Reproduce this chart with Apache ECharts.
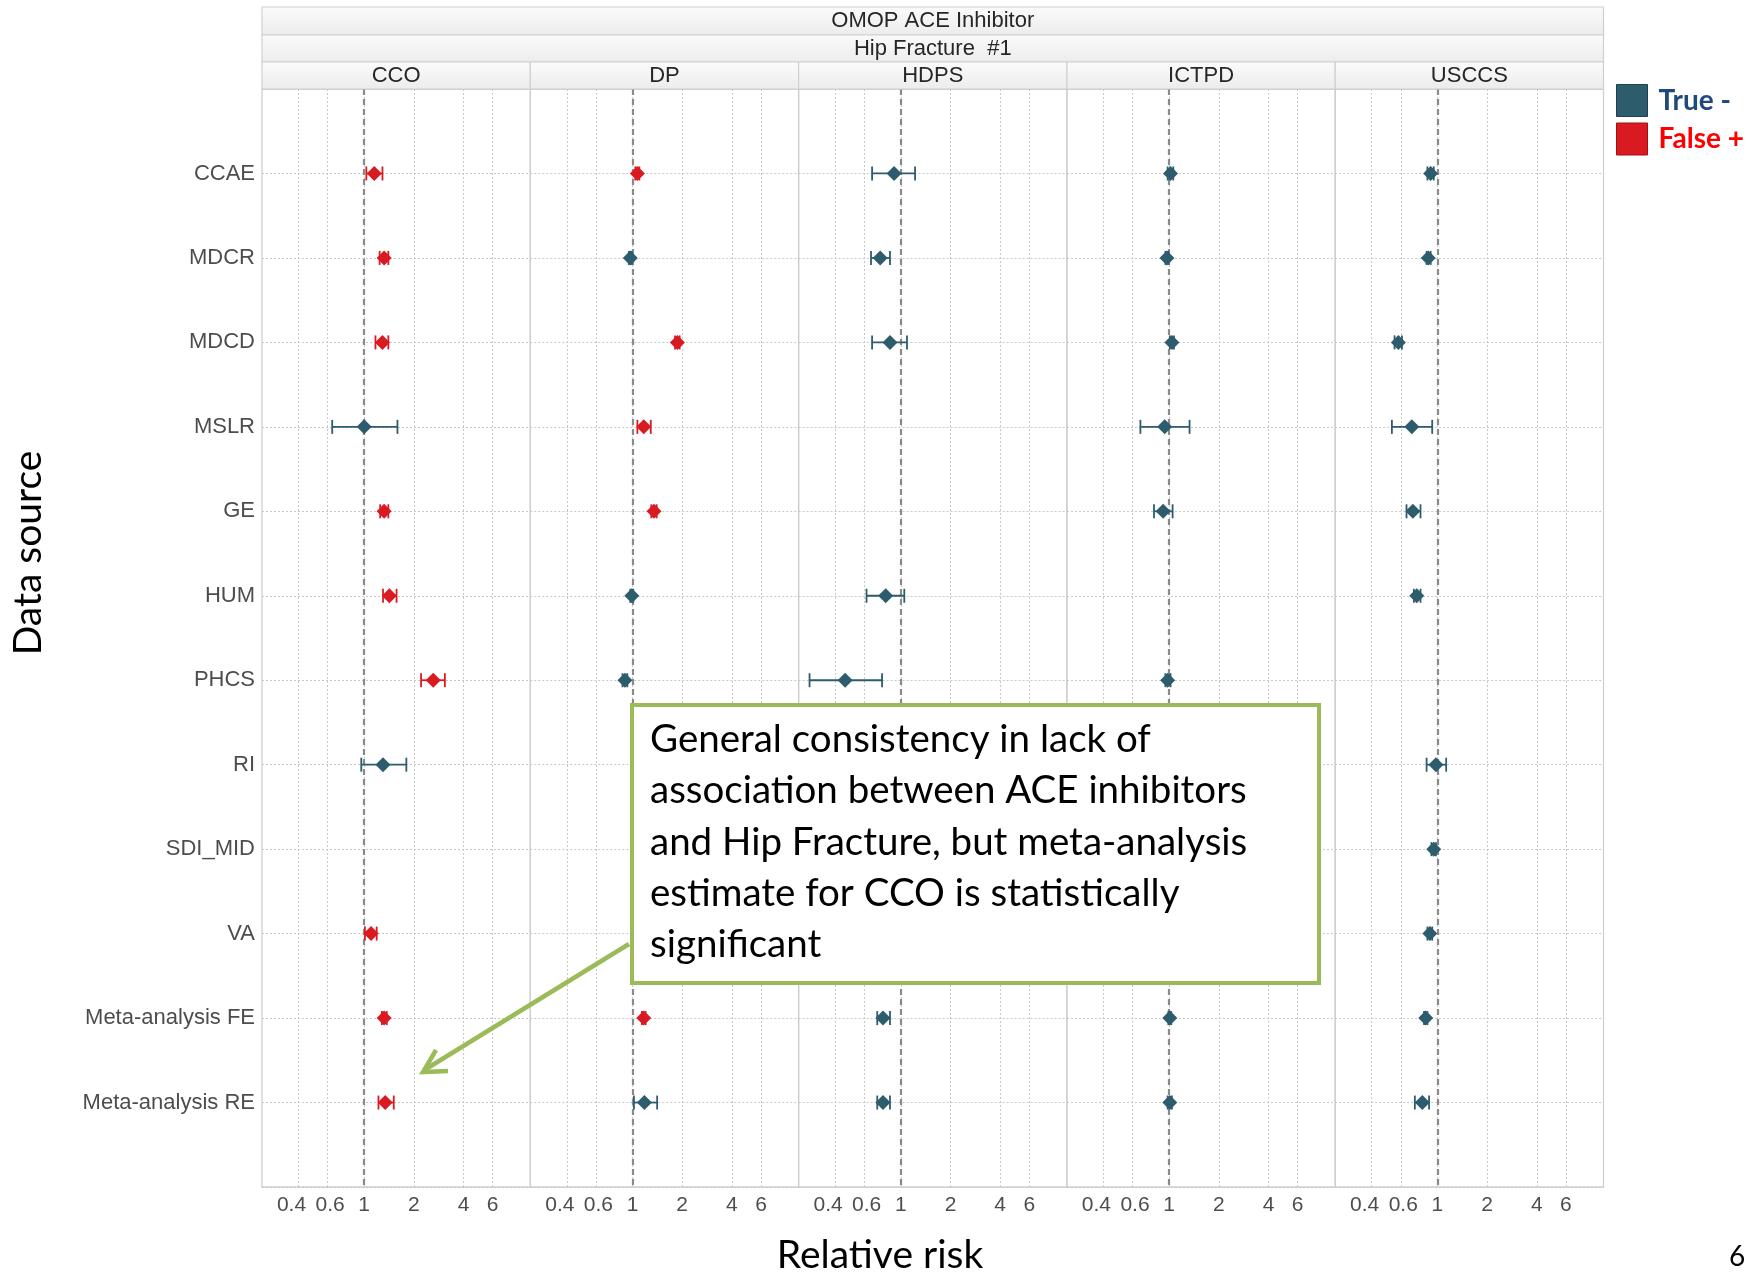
<!DOCTYPE html>
<html>
<head>
<meta charset="utf-8">
<script src="https://cdn.jsdelivr.net/npm/echarts@6/dist/echarts.min.js"></script>
<style>html,body{margin:0;padding:0;background:#fff}#c{width:1746px;height:1274px}</style>
</head>
<body>
<div id="c"></div>
<script>
// ---------- data ----------
const methods = ['CCO', 'DP', 'HDPS', 'ICTPD', 'USCCS'];
const sources = ['CCAE', 'MDCR', 'MDCD', 'MSLR', 'GE', 'HUM', 'PHCS', 'RI', 'SDI_MID', 'VA', 'Meta-analysis FE', 'Meta-analysis RE'];
const xTicks = [0.4, 0.6, 1, 2, 4, 6];
const classNames = ['True -', 'False +'];

// relative risk estimates, lower / upper CI, class (1 = False +, 0 = True -)
const ccoEst  = [1.15, 1.32, 1.29, 1.00, 1.32, 1.42, 2.62, 1.30, null, 1.10, 1.32, 1.34];
const ccoLow  = [1.03, 1.24, 1.17, 0.64, 1.25, 1.30, 2.21, 0.96, null, 1.01, 1.28, 1.22];
const ccoHigh = [1.29, 1.40, 1.40, 1.59, 1.40, 1.57, 3.08, 1.80, null, 1.19, 1.37, 1.51];
const ccoFalsePos = [1, 1, 1, 0, 1, 1, 1, 0, null, 1, 1, 1];

const dpEst  = [1.07, 0.97, 1.87, 1.17, 1.35, 0.99, 0.90, null, null, null, 1.17, 1.18];
const dpLow  = [1.04, 0.95, 1.81, 1.07, 1.30, 0.97, 0.87, null, null, null, 1.14, 1.02];
const dpHigh = [1.10, 0.99, 1.93, 1.29, 1.40, 1.01, 0.93, null, null, null, 1.20, 1.41];
const dpFalsePos = [1, 0, 1, 1, 1, 0, 0, null, null, null, 1, 0];

const hdpsEst  = [0.91, 0.75, 0.86, null, null, 0.81, 0.46, null, null, null, 0.78, 0.78];
const hdpsLow  = [0.67, 0.66, 0.67, null, null, 0.62, 0.28, null, null, null, 0.72, 0.72];
const hdpsHigh = [1.22, 0.86, 1.09, null, null, 1.05, 0.77, null, null, null, 0.86, 0.86];
const hdpsFalsePos = [0, 0, 0, null, null, 0, 0, null, null, null, 0, 0];

const ictpdEst  = [1.02, 0.97, 1.04, 0.94, 0.92, null, 0.98, null, null, null, 1.01, 1.01];
const ictpdLow  = [0.98, 0.95, 1.01, 0.67, 0.81, null, 0.95, null, null, null, 0.99, 0.98];
const ictpdHigh = [1.06, 0.99, 1.07, 1.33, 1.05, null, 1.02, null, null, null, 1.03, 1.04];
const ictpdFalsePos = [0, 0, 0, 0, 0, null, 0, null, null, null, 0, 0];

const usccsEst  = [0.91, 0.88, 0.58, 0.70, 0.71, 0.75, null, 0.98, 0.95, 0.90, 0.85, 0.81];
const usccsLow  = [0.87, 0.86, 0.55, 0.53, 0.65, 0.72, null, 0.86, 0.92, 0.87, 0.83, 0.73];
const usccsHigh = [0.95, 0.91, 0.61, 0.93, 0.79, 0.79, null, 1.13, 0.98, 0.93, 0.87, 0.89];
const usccsFalsePos = [0, 0, 0, 0, 0, 0, null, 0, 0, 0, 0, 0];

const methodData = [
  [ccoEst, ccoLow, ccoHigh, ccoFalsePos],
  [dpEst, dpLow, dpHigh, dpFalsePos],
  [hdpsEst, hdpsLow, hdpsHigh, hdpsFalsePos],
  [ictpdEst, ictpdLow, ictpdHigh, ictpdFalsePos],
  [usccsEst, usccsLow, usccsHigh, usccsFalsePos]
];

// ---------- layout / style ----------
const COLORS = ['#2D5C6D', '#DA1A21'];
const PLOT_LEFT = 262, PANEL_W = 268.3, PLOT_TOP = 89, PLOT_H = 1098;
const AXIS_FONT = 'Liberation Sans';
const SLIDE_FONT = 'Lato';
const GG_SIZE = 22;

const chart = echarts.init(document.getElementById('c'), null, {renderer: 'canvas'});

const grids = [], xAxes = [], yAxes = [], series = [];
methods.forEach((m, gi) => {
  grids.push({
    left: PLOT_LEFT + gi * PANEL_W, top: PLOT_TOP, width: PANEL_W, height: PLOT_H,
    show: true, borderColor: '#cfcfcf', borderWidth: 1.3, backgroundColor: 'transparent'
  });
  xAxes.push({
    type: 'log', gridIndex: gi, min: 0.2404, max: 10.14,
    axisLine: {show: false},
    axisTick: {show: false, customValues: xTicks},
    axisLabel: {
      customValues: xTicks, color: '#4d4d4d', fontFamily: AXIS_FONT, fontSize: 21, margin: 8,
      showMinLabel: true, showMaxLabel: true, hideOverlap: false,
      formatter: v => {
        const s = String(+(+v).toPrecision(2));
        if (s === '0.4') return '{l|' + s + '}';
        if (s === '0.6') return '{r|' + s + '}';
        return s;
      },
      rich: {
        l: {padding: [0, 14, 0, 0], color: '#4d4d4d', fontFamily: AXIS_FONT, fontSize: 21},
        r: {padding: [0, 0, 0, 5], color: '#4d4d4d', fontFamily: AXIS_FONT, fontSize: 21}
      }
    },
    splitLine: {show: true, lineStyle: {type: [2, 2], color: '#c8c8c8', width: 1}}
  });
  yAxes.push({
    type: 'value', gridIndex: gi, min: 0, max: 13, interval: 1, inverse: true,
    axisLine: {show: false}, axisTick: {show: false},
    axisLabel: {
      show: gi === 0, color: '#4d4d4d', fontFamily: AXIS_FONT, fontSize: GG_SIZE, margin: 7,
      formatter: v => sources[v - 1] || ''
    },
    splitLine: {show: true, lineStyle: {type: [2, 2], color: '#c8c8c8', width: 1}}
  });

  const [est, low, high, fp] = methodData[gi];
  [0, 1].forEach(cls => {
    const pts = [], bars = [];
    est.forEach((v, i) => {
      if (v == null || fp[i] !== cls) return;
      pts.push([v, i + 1]);
      bars.push([low[i], high[i], i + 1]);
    });
    const color = COLORS[cls];
    series.push({
      type: 'custom', name: classNames[cls], xAxisIndex: gi, yAxisIndex: gi, z: 3,
      itemStyle: {color},
      encode: {x: [0, 1], y: 2},
      renderItem: (params, api) => {
        const y = api.value(2);
        const a = api.coord([api.value(0), y]);
        const b = api.coord([api.value(1), y]);
        const h = 7;
        const st = {stroke: color, lineWidth: 1.8};
        return {type: 'group', children: [
          {type: 'line', shape: {x1: a[0], y1: a[1], x2: b[0], y2: b[1]}, style: st},
          {type: 'line', shape: {x1: a[0], y1: a[1] - h, x2: a[0], y2: a[1] + h}, style: st},
          {type: 'line', shape: {x1: b[0], y1: b[1] - h, x2: b[0], y2: b[1] + h}, style: st}
        ]};
      },
      data: bars
    });
    const s = {
      type: 'scatter', name: classNames[cls], xAxisIndex: gi, yAxisIndex: gi, z: 4,
      symbol: 'diamond', symbolSize: 15, itemStyle: {color, opacity: 1},
      data: pts
    };
    if (cls === 0) {
      s.markLine = {
        silent: true, symbol: ['none', 'none'], label: {show: false}, z: 2,
        lineStyle: {type: [6, 4], color: '#8a8a8a', width: 2.2},
        data: [{xAxis: 1}]
      };
    }
    series.push(s);
  });
});

// strips (facet labels)
const stripFill = new echarts.graphic.LinearGradient(0, 0, 0, 1, [
  {offset: 0, color: '#fbfbfb'}, {offset: 1, color: '#ececec'}
]);
const totalW = PANEL_W * methods.length;
const graphics = [];
const stripStyle = () => ({fill: stripFill, stroke: '#d0d0d0', lineWidth: 1.2});
const stripFont = GG_SIZE + 'px "Liberation Sans"';
graphics.push({type: 'rect', shape: {x: PLOT_LEFT, y: 7, width: totalW, height: 28}, style: stripStyle(), z: 50});
graphics.push({type: 'rect', shape: {x: PLOT_LEFT, y: 35, width: totalW, height: 27}, style: stripStyle(), z: 50});
graphics.push({type: 'text', x: PLOT_LEFT + totalW / 2, y: 21, style: {text: 'OMOP ACE Inhibitor', font: stripFont, fill: '#262626', align: 'center', verticalAlign: 'middle'}, z: 51});
graphics.push({type: 'text', x: PLOT_LEFT + totalW / 2, y: 48.5, style: {text: 'Hip Fracture  #1', font: stripFont, fill: '#262626', align: 'center', verticalAlign: 'middle'}, z: 51});
methods.forEach((m, gi) => {
  graphics.push({type: 'rect', shape: {x: PLOT_LEFT + gi * PANEL_W, y: 62, width: PANEL_W, height: 27}, style: stripStyle(), z: 50});
  graphics.push({type: 'text', x: PLOT_LEFT + gi * PANEL_W + PANEL_W / 2, y: 75.5, style: {text: m, font: stripFont, fill: '#262626', align: 'center', verticalAlign: 'middle'}, z: 51});
});

// axis titles and page number
graphics.push({type: 'text', x: 880, y: 1255, style: {text: 'Relative risk', font: '39px Lato', fill: '#000', align: 'center', verticalAlign: 'middle'}, z: 60});
graphics.push({type: 'text', x: 28, y: 553, rotation: Math.PI / 2, style: {text: 'Data source', font: '39px Lato', fill: '#000', align: 'center', verticalAlign: 'middle'}, z: 60});
graphics.push({type: 'text', x: 1737, y: 1257, style: {text: '6', font: '28px Lato', fill: '#000', align: 'center', verticalAlign: 'middle'}, z: 60});

// annotation box + arrow
const GREEN = '#9BBB59';
graphics.push({type: 'rect', shape: {x: 632, y: 705, width: 687, height: 278}, style: {fill: '#fff', stroke: GREEN, lineWidth: 4}, z: 100});
graphics.push({type: 'text', x: 650, y: 714, style: {
  text: 'General consistency in lack of\nassociation between ACE inhibitors\nand Hip Fracture, but meta-analysis\nestimate for CCO is statistically\nsignificant',
  font: '38.5px Lato', fill: '#000', lineHeight: 51.3, align: 'left', verticalAlign: 'top'}, z: 101});
graphics.push({type: 'line', shape: {x1: 629, y1: 944, x2: 426, y2: 1069}, style: {stroke: GREEN, lineWidth: 4.5}, z: 101});
graphics.push({type: 'polyline', shape: {points: [[436, 1050], [423, 1072], [448, 1071]]}, style: {stroke: GREEN, lineWidth: 4.5, fill: null, lineJoin: 'miter'}, z: 101});

chart.setOption({
  animation: false,
  backgroundColor: '#fff',
  legend: {
    orient: 'vertical', left: 1616, top: 84, padding: 0, itemWidth: 31, itemHeight: 32, itemGap: 5.5,
    icon: 'rect', selectedMode: false,
    textStyle: {fontFamily: SLIDE_FONT, fontSize: 28, fontWeight: 'bold', padding: [0, 0, 0, 6]},
    data: [
      {name: 'True -', textStyle: {color: '#1F497D'}, itemStyle: {color: COLORS[0], borderColor: '#20404c', borderWidth: 1}},
      {name: 'False +', textStyle: {color: '#FF0000'}, itemStyle: {color: COLORS[1], borderColor: '#a01015', borderWidth: 1}}
    ]
  },
  grid: grids, xAxis: xAxes, yAxis: yAxes, series,
  graphic: graphics
});
</script>
</body>
</html>
